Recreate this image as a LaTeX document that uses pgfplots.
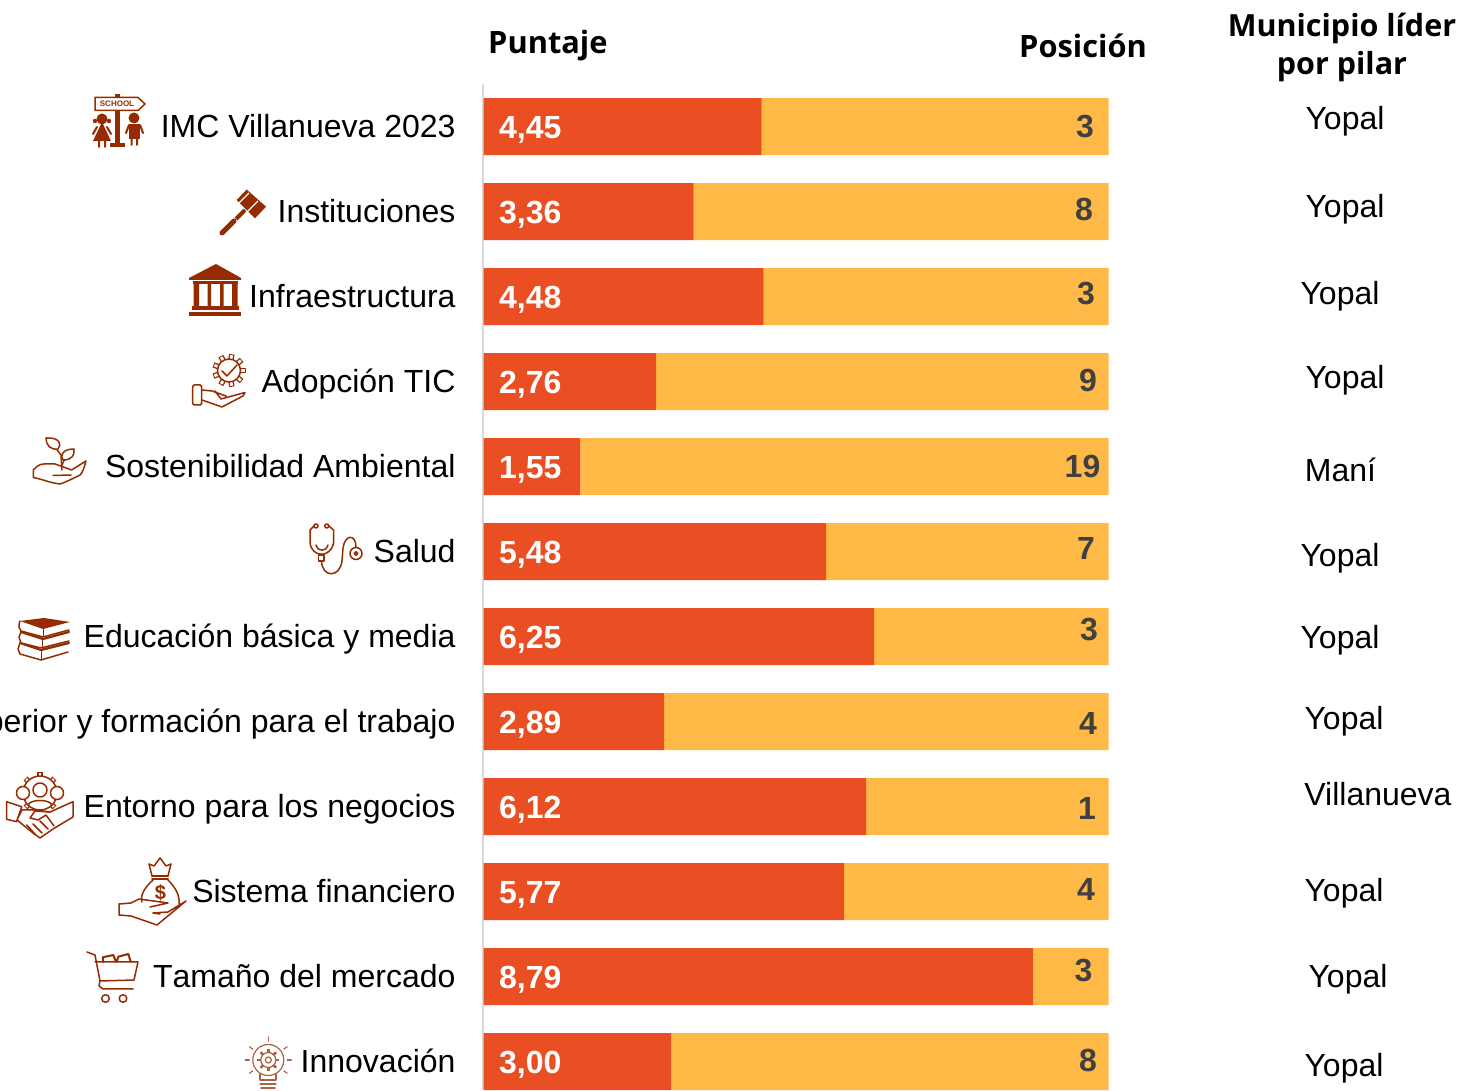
\documentclass[border=0pt]{standalone}
\usepackage{fontspec}
\usepackage{pgfplots}
\usepackage{pgfplotstable}
\pgfplotsset{compat=1.18}
\setmainfont{Liberation Sans}
\newfontfamily\headfont{Open Sans}
\definecolor{barA}{HTML}{E94F23}
\definecolor{barB}{HTML}{FFB947}
\definecolor{ico}{HTML}{952B00}
\definecolor{axgray}{HTML}{D9D9D9}
\definecolor{numgray}{HTML}{404040}
\pgfplotstableread{
idx score rest
0 4.45 5.55
1 3.36 6.64
2 4.48 5.52
3 2.76 7.24
4 1.55 8.45
5 5.48 4.52
6 6.25 3.75
7 2.89 7.11
8 6.12 3.88
9 5.77 4.23
10 8.79 1.21
11 3.00 7.00
}\datatable
\newcommand{\fs}[1]{\fontsize{#1}{#1}\selectfont}
% outlined gear: centre x, centre y, body radius, tooth length, tooth step
\newcommand{\geartool}[5]{%
  \foreach \a in {0,#5,...,359} \draw[ico,line width=5.5pt,line cap=butt] (#1,#2) ++(\a:#3-1) -- ++(\a:#4+1);
  \foreach \a in {0,#5,...,359} \draw[white,line width=2.8pt,line cap=butt] (#1,#2) ++(\a:#3-1) -- ++(\a:#4);
  \draw[ico,fill=white] (#1,#2) circle (#3);
}
\begin{document}
\begin{tikzpicture}[x=1pt,y=1pt]
\useasboundingbox (0,0) rectangle (1478,1090);
\fill[white] (0,0) rectangle (1478,1090);
\draw[axgray,line width=2pt] (483,1006) -- (483,0);
\begin{axis}[
  at={(483.6pt,1006pt)}, anchor=north west,
  scale only axis, width=624.9pt, height=1020pt,
  xmin=0, xmax=10, ymin=-0.5, ymax=11.5, y dir=reverse,
  xbar stacked, bar width=57pt,
  axis x line=none, axis y line=none,
  clip=false,
  enlargelimits=false,
]
\addplot[fill=barA,draw=none] table[x=score,y=idx] {\datatable};
\addplot[fill=barB,draw=none] table[x=rest,y=idx] {\datatable};
\end{axis}
\begin{scope}[shift={(0,1090)},y=-1pt]
% category labels
\foreach \t/\y in {IMC Villanueva 2023/126,Instituciones/211,Infraestructura/296,Adopción TIC/381,Sostenibilidad Ambiental/466,Salud/551,Educación básica y media/636,Educación superior y formación para el trabajo/721,Entorno para los negocios/806,Sistema financiero/891,T\kern0pt amaño del mercado/976,Innovación/1061}
  \node[anchor=base east,inner sep=0pt,font=\fs{32}] at (455.7,\y+11.5) {\t};
% scores
\foreach \a/\b/\y in {4/45/127,3/36/212,4/48/297,2/76/382,1/55/467,5/48/552,6/25/637,2/89/722,6/12/807,5/77/892,8/79/977,3/00/1062}
  \node[anchor=base west,inner sep=0pt,text=white,font=\fs{32}\bfseries] at (499,\y+11.5) {\a,\b};
% positions
\foreach \t/\x/\y in {3/1085/126,8/1084/209,3/1086/293,9/1088/380,19/1082.5/466,7/1086/548,3/1089/629,4/1088/723,1/1087/808,4/1086/889,3/1083.5/970,8/1088/1060}
  \node[anchor=base,inner sep=0pt,text=numgray,font=\fs{32}\bfseries] at (\x,\y+11.5) {\t};
% leaders
\foreach \t/\x/\y in {Yopal/1345/118,Yopal/1345/206,Yopal/1340/293,Yopal/1345/377,Maní/1340.5/470,Yopal/1340/555,Yopal/1340/637,Yopal/1344/718,Villanueva/1378/794,Yopal/1344/890,Yopal/1348/976,Yopal/1344/1065}
  \node[anchor=base,inner sep=0pt,font=\fs{32}] at (\x,\y+11.5) {\t};
% headers
\node[anchor=base west,inner sep=0pt,font=\fs{30.8}\headfont\bfseries] at (488,54) {Puntaje};
\node[anchor=base west,inner sep=0pt,font=\fs{30.8}\headfont\bfseries] at (1019,58) {Posición};
\node[anchor=base,inner sep=0pt,font=\fs{30.5}\headfont\bfseries] at (1342,37) {Municipio líder};
\node[anchor=base,inner sep=0pt,font=\fs{30.5}\headfont\bfseries] at (1342,75) {por pilar};
% ---- icons ----
\begin{scope}[draw=ico,line width=1.5pt,line join=round,line cap=round]
% school
\fill[ico] (115,94) rectangle (120,143.5);
\fill[ico] (110,143) rectangle (125,147);
\draw[fill=white] (95,97.5) -- (138,97.5) -- (145,104) -- (138,110.5) -- (95,110.5) -- cycle;
\node[text=ico,inner sep=0pt,font=\fs{8}\bfseries] at (117,104) {SCHOOL};
\fill[ico] (102,119) circle (5.5);
\fill[ico] (102,122) -- (93,141) -- (111,141) -- cycle;
\fill[ico] (95,121) circle (2.2) (109,121) circle (2.2);
\draw[ico,line width=2pt] (97,127) -- (93,134) (107,127) -- (111,134) (99,141) -- (99,147) (105,141) -- (105,147);
\fill[ico] (134,118) circle (5.5);
\fill[ico] (128.5,124) rectangle (140,139);
\draw[ico,line width=2pt] (129,125) -- (126,133) (140,125) -- (143,133) (131.5,139) -- (131.5,145) (137,139) -- (137,145);
% gavel
\draw[line width=5pt] (222,233) -- (234,221);
\draw[line width=4pt,line cap=butt] (236,219) -- (245,210);
\fill[ico] (246.7,189.5) -- (266,206.7) -- (255,218.3) -- (236.7,200) -- cycle;
\draw[white,line width=1.2pt,line cap=butt] (249,193) -- (239,203) (258,201) -- (246,213);
% bank
\fill[ico] (189,278) -- (216,264) -- (241,278) -- (241,280) -- (189,280) -- cycle;
\fill[ico] (193,281.5) rectangle (237.5,284.5);
\fill[ico] (193.5,284) rectangle (199,307) (207.5,284) rectangle (211,307) (220,284) rectangle (223.5,307) (232,284) rectangle (237.5,307);
\fill[ico] (192,306) rectangle (239,310);
\fill[ico] (189,312.5) rectangle (241,316.5);
% TIC
\geartool{229}{370.5}{11.5}{5}{40}
\draw (222,371) -- (227,376) -- (237,365);
\draw[fill=white,rounded corners=1.5pt] (192.7,385) rectangle (201.7,405);
\draw (201.7,390) -- (212,391) -- (226,396) (215,391) -- (221,399) -- (245,392.5) -- (243,396) -- (222,407) -- (202,400);
% plant
\draw (33.3,477.5) -- (33.3,470) .. controls (37,466) and (40,464) .. (44,464) -- (55,464) -- (71.7,470) -- (86,461) .. controls (84,468) and (83,472) .. (80,475) .. controls (72,479) and (66,482) .. (60,484) .. controls (50,483) and (42,479) .. (33.3,477.5);
\draw (53,475.5) -- (71,475);
\draw (62,470) -- (61,455) -- (55,447);
\draw (62,465) -- (66,456);
\draw[fill=white] (46,438) .. controls (60,437) and (62,445) .. (58,449) .. controls (50,450) and (46,445) .. (46,438);
\draw[fill=white] (74,449) .. controls (62,449) and (60,456) .. (63,460) .. controls (72,460) and (75,455) .. (74,449);
% stethoscope
\draw (316,526) circle (2) (326.7,526) circle (2);
\draw (314,526) -- (310,530) -- (310,543) .. controls (312,558) and (331,558) .. (333.5,543) -- (333.5,530) -- (329,526);
\draw (316,545) .. controls (318,552) and (326,552) .. (328,545);
\draw[fill=white] (318.5,555) rectangle (324,561);
\draw (321.5,561) .. controls (322,578) and (340,578) .. (342,561) -- (343,548) .. controls (345,534) and (356,534) .. (356,547);
\draw (356,553.5) circle (6);
\draw (356,553.5) circle (1.8);
% books
\fill[ico] (20,621) -- (44,618) -- (70,622) -- (43,629) -- cycle;
\draw (20,621) .. controls (18,626) and (19,629) .. (21,631) -- (43,637) -- (69,630);
\draw[line width=1pt] (43,629) -- (43,637);
\draw (21,632) -- (19,637) -- (21,643) -- (41,648) -- (69,641);
\draw[line width=2.2pt] (69,632) -- (43,639) -- (21,632);
\draw[line width=1pt] (42,638) -- (42,648);
\draw[line width=2.2pt] (69,643) -- (41,650) -- (20,643);
\draw (20,643) -- (18,649) -- (20,654) -- (41,660) -- (68,652);
\draw[line width=1pt] (41,650) -- (41,660);
% handshake
\geartool{40}{793}{17}{3.5}{45}
\draw[fill=white] (40,790) circle (7);
\draw[fill=white] (23,793) circle (6.5) (57,793) circle (6.5);
\draw (28,805) .. controls (30,799) and (50,799) .. (52,805);
\draw[fill=white] (6.7,801.7) -- (21.7,806.7) -- (16.7,821.7) -- (6.7,819.3) -- cycle;
\draw[fill=white] (73,801.7) -- (73,817) -- (53,829) -- (40,838) -- (33,833) -- (17,820) -- (22,810) -- (33,810) -- (50,812) -- cycle;
\draw (50,812) -- (35,811) -- (30,818) -- (38,820) -- (46,815) -- (54,826);
\draw (26.7,825) -- (35,834) (33,824) -- (42,833) (40,821) -- (48,829);
% money bag
\draw (152,876) -- (149,864) -- (154,866) -- (160,858) -- (166,866) -- (171,864) -- (168,876);
\draw[line width=2pt] (152,876) -- (168,876);
\draw[line width=2pt] (152,879.5) -- (168,879.5);
\draw (153,880) .. controls (144,888) and (140,896) .. (142,902) (168,880) .. controls (176,888) and (180,896) .. (179,904);
\node[text=ico,inner sep=0pt,font=\fs{20}\bfseries] at (160.5,893) {\$};
\draw (119,904) -- (131,903) -- (139,899) -- (168,903) -- (150,907);
\draw (119,904) -- (119,915) -- (131,916) -- (157,925) -- (186,901) -- (168,912) -- (153,913) -- (160,914);
% cart
\draw (87,952) -- (95,955) -- (100,981) -- (134,980) -- (138,962) -- (95,962);
\draw (100,981) -- (99,986) -- (103,989) -- (133,989);
\draw[line width=2pt] (103.3,962) -- (102.7,957.3) -- (113.3,955) -- (116,961.7) (116.7,961.7) -- (118.3,956.7) -- (128.3,954) -- (130.7,961.7);
\draw (105.5,998.5) circle (3.8) (123,998.5) circle (3.8);
% bulb
\begin{scope}[draw=ico!75,line width=1.2pt]
\draw (268.3,1060) circle (15.5);
\foreach \a in {0,45,...,315} \draw[line width=2.5pt,line cap=butt] (268.3,1060) ++(\a:7) -- ++(\a:4);
\draw (268.3,1060) circle (7.5);
\draw (268.3,1060) circle (3);
\foreach \a in {0,35,90,145,180,215,325} \draw (268.3,1060) ++(-\a:19) -- ++(-\a:4);
\draw (260,1074) -- (260,1080) -- (276,1080) -- (276,1074);
\draw (260,1084) -- (276,1084) (261,1088) -- (275,1088);
\end{scope}
\end{scope}
\end{scope}
\end{tikzpicture}
\end{document}
